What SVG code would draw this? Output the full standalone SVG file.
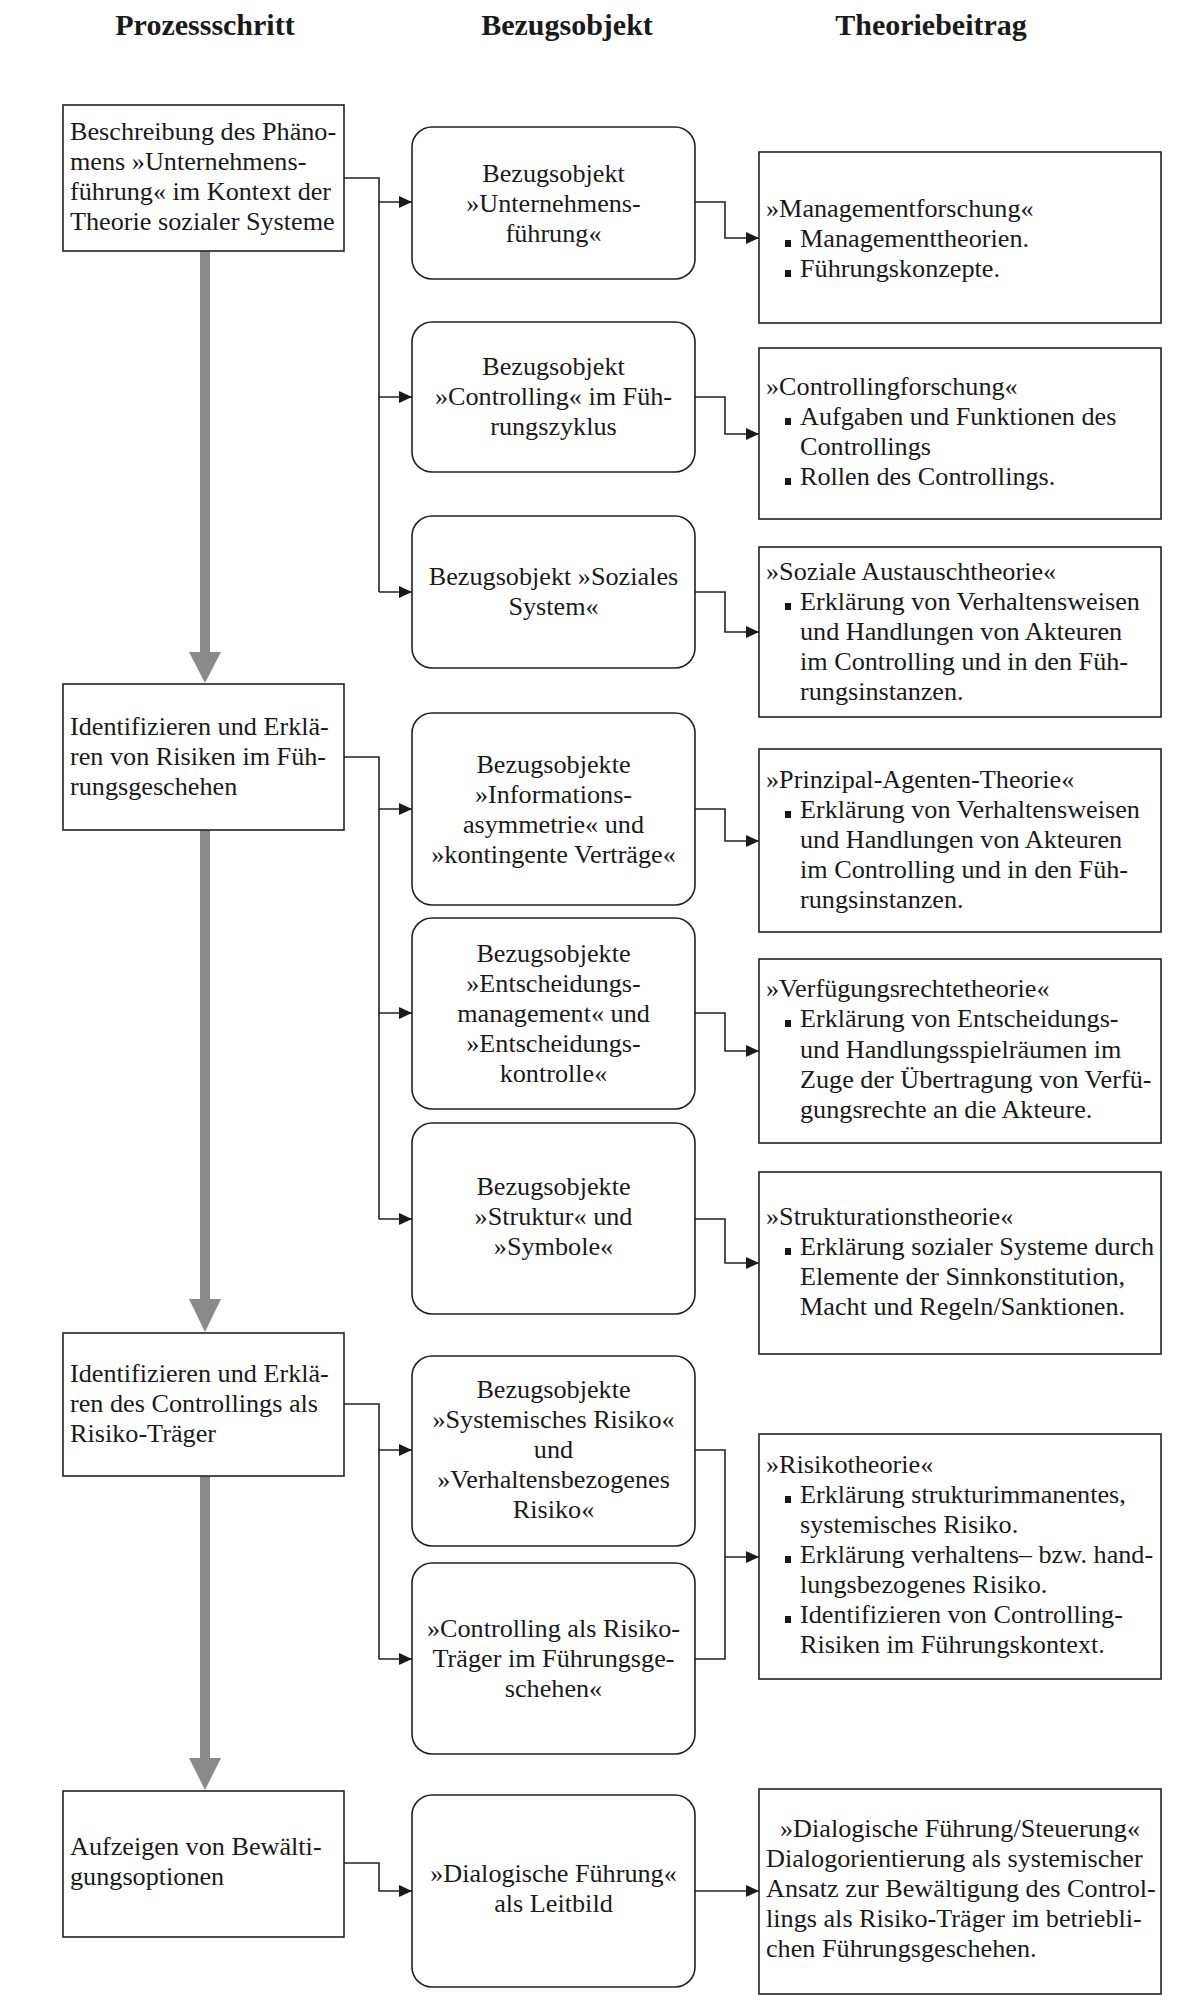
<svg xmlns="http://www.w3.org/2000/svg" width="1204" height="2016" viewBox="0 0 1204 2016">
<style>
.t{font-family:"Liberation Serif","Times New Roman",serif;font-size:26.2px;fill:#1a1a1a}
.h{font-family:"Liberation Serif","Times New Roman",serif;font-size:30px;font-weight:bold;fill:#1a1a1a;text-anchor:middle}
.c{text-anchor:middle}
.box{fill:#fff;stroke:#222;stroke-width:1.6}
.con{fill:none;stroke:#222;stroke-width:1.6}
.gs{stroke:#8a8a8a;stroke-width:10;fill:none}
.gh{fill:#8a8a8a}
.b{fill:#1a1a1a}
</style>
<defs>
<marker id="ah" markerUnits="userSpaceOnUse" markerWidth="14" markerHeight="12" refX="13" refY="6" orient="auto">
<path d="M0,0 L13,6 L0,12 z" fill="#1a1a1a"/>
</marker>
</defs>
<rect width="1204" height="2016" fill="#fff"/>
<g id="headers">
<text class="h" x="205" y="35">Prozessschritt</text>
<text class="h" x="567" y="35">Bezugsobjekt</text>
<text class="h" x="931" y="35">Theoriebeitrag</text>
</g>
<g id="flow">
<line class="gs" x1="205" y1="251" x2="205" y2="654"/>
<polygon class="gh" points="189,652 221,652 205,683"/>
<line class="gs" x1="205" y1="830" x2="205" y2="1301"/>
<polygon class="gh" points="189,1299 221,1299 205,1332"/>
<line class="gs" x1="205" y1="1476" x2="205" y2="1760"/>
<polygon class="gh" points="189,1758 221,1758 205,1790"/>
</g>
<g id="connectors">
<path class="con" d="M344,178 H379 V592"/>
<path class="con" d="M379,202 H412" marker-end="url(#ah)"/>
<path class="con" d="M379,397 H412" marker-end="url(#ah)"/>
<path class="con" d="M379,592 H412" marker-end="url(#ah)"/>
<path class="con" d="M344,757 H379 V1219"/>
<path class="con" d="M379,809 H412" marker-end="url(#ah)"/>
<path class="con" d="M379,1013 H412" marker-end="url(#ah)"/>
<path class="con" d="M379,1219 H412" marker-end="url(#ah)"/>
<path class="con" d="M344,1404 H379 V1659"/>
<path class="con" d="M379,1450 H412" marker-end="url(#ah)"/>
<path class="con" d="M379,1659 H412" marker-end="url(#ah)"/>
<path class="con" d="M344,1863 H379 V1891 H412" marker-end="url(#ah)"/>
<path class="con" d="M695,202 H725 V238 H759" marker-end="url(#ah)"/>
<path class="con" d="M695,397 H725 V434 H759" marker-end="url(#ah)"/>
<path class="con" d="M695,592 H725 V632 H759" marker-end="url(#ah)"/>
<path class="con" d="M695,809 H725 V841 H759" marker-end="url(#ah)"/>
<path class="con" d="M695,1013 H725 V1051 H759" marker-end="url(#ah)"/>
<path class="con" d="M695,1219 H725 V1263 H759" marker-end="url(#ah)"/>
<path class="con" d="M695,1450 H725 V1659 H695"/>
<path class="con" d="M725,1557 H759" marker-end="url(#ah)"/>
<path class="con" d="M695,1891 H759" marker-end="url(#ah)"/>
</g>
<g id="p1">
<rect class="box" x="63" y="105" width="281" height="146"/>
<text class="t" x="70" y="140">Beschreibung des Phäno-</text>
<text class="t" x="70" y="170">mens »Unternehmens-</text>
<text class="t" x="70" y="200">führung« im Kontext der</text>
<text class="t" x="70" y="230">Theorie sozialer Systeme</text>
</g>
<g id="p2">
<rect class="box" x="63" y="684" width="281" height="146"/>
<text class="t" x="70" y="735">Identifizieren und Erklä-</text>
<text class="t" x="70" y="765">ren von Risiken im Füh-</text>
<text class="t" x="70" y="795">rungsgeschehen</text>
</g>
<g id="p3">
<rect class="box" x="63" y="1333" width="281" height="143"/>
<text class="t" x="70" y="1382">Identifizieren und Erklä-</text>
<text class="t" x="70" y="1412">ren des Controllings als</text>
<text class="t" x="70" y="1442">Risiko-Träger</text>
</g>
<g id="p4">
<rect class="box" x="63" y="1791" width="281" height="146"/>
<text class="t" x="70" y="1855">Aufzeigen von Bewälti-</text>
<text class="t" x="70" y="1885">gungsoptionen</text>
</g>
<g id="m1">
<rect class="box" x="412" y="127" width="283" height="152" rx="20"/>
<text class="t c" x="553.5" y="182">Bezugsobjekt</text>
<text class="t c" x="553.5" y="212">»Unternehmens-</text>
<text class="t c" x="553.5" y="242">führung«</text>
</g>
<g id="m2">
<rect class="box" x="412" y="322" width="283" height="150" rx="20"/>
<text class="t c" x="553.5" y="375">Bezugsobjekt</text>
<text class="t c" x="553.5" y="405">»Controlling« im Füh-</text>
<text class="t c" x="553.5" y="435">rungszyklus</text>
</g>
<g id="m3">
<rect class="box" x="412" y="516" width="283" height="152" rx="20"/>
<text class="t c" x="553.5" y="585">Bezugsobjekt »Soziales</text>
<text class="t c" x="553.5" y="615">System«</text>
</g>
<g id="m4">
<rect class="box" x="412" y="713" width="283" height="192" rx="20"/>
<text class="t c" x="553.5" y="773">Bezugsobjekte</text>
<text class="t c" x="553.5" y="803">»Informations-</text>
<text class="t c" x="553.5" y="833">asymmetrie« und</text>
<text class="t c" x="553.5" y="863">»kontingente Verträge«</text>
</g>
<g id="m5">
<rect class="box" x="412" y="918" width="283" height="191" rx="20"/>
<text class="t c" x="553.5" y="962">Bezugsobjekte</text>
<text class="t c" x="553.5" y="992">»Entscheidungs-</text>
<text class="t c" x="553.5" y="1022">management« und</text>
<text class="t c" x="553.5" y="1052">»Entscheidungs-</text>
<text class="t c" x="553.5" y="1082">kontrolle«</text>
</g>
<g id="m6">
<rect class="box" x="412" y="1123" width="283" height="191" rx="20"/>
<text class="t c" x="553.5" y="1195">Bezugsobjekte</text>
<text class="t c" x="553.5" y="1225">»Struktur« und</text>
<text class="t c" x="553.5" y="1255">»Symbole«</text>
</g>
<g id="m7">
<rect class="box" x="412" y="1356" width="283" height="190" rx="20"/>
<text class="t c" x="553.5" y="1398">Bezugsobjekte</text>
<text class="t c" x="553.5" y="1428">»Systemisches Risiko«</text>
<text class="t c" x="553.5" y="1458">und</text>
<text class="t c" x="553.5" y="1488">»Verhaltensbezogenes</text>
<text class="t c" x="553.5" y="1518">Risiko«</text>
</g>
<g id="m8">
<rect class="box" x="412" y="1563" width="283" height="191" rx="20"/>
<text class="t c" x="553.5" y="1637">»Controlling als Risiko-</text>
<text class="t c" x="553.5" y="1667">Träger im Führungsge-</text>
<text class="t c" x="553.5" y="1697">schehen«</text>
</g>
<g id="m9">
<rect class="box" x="412" y="1795" width="283" height="192" rx="20"/>
<text class="t c" x="553.5" y="1882">»Dialogische Führung«</text>
<text class="t c" x="553.5" y="1912">als Leitbild</text>
</g>
<g id="r1">
<rect class="box" x="759" y="152" width="402" height="171"/>
<text class="t" x="766" y="217">»Managementforschung«</text>
<rect class="b" x="785" y="240" width="6" height="7"/>
<text class="t" x="800" y="247">Managementtheorien.</text>
<rect class="b" x="785" y="270" width="6" height="7"/>
<text class="t" x="800" y="277">Führungskonzepte.</text>
</g>
<g id="r2">
<rect class="box" x="759" y="348" width="402" height="171"/>
<text class="t" x="766" y="395">»Controllingforschung«</text>
<rect class="b" x="785" y="418" width="6" height="7"/>
<text class="t" x="800" y="425">Aufgaben und Funktionen des</text>
<text class="t" x="800" y="455">Controllings</text>
<rect class="b" x="785" y="478" width="6" height="7"/>
<text class="t" x="800" y="485">Rollen des Controllings.</text>
</g>
<g id="r3">
<rect class="box" x="759" y="547" width="402" height="170"/>
<text class="t" x="766" y="580">»Soziale Austauschtheorie«</text>
<rect class="b" x="785" y="603" width="6" height="7"/>
<text class="t" x="800" y="610">Erklärung von Verhaltensweisen</text>
<text class="t" x="800" y="640">und Handlungen von Akteuren</text>
<text class="t" x="800" y="670">im Controlling und in den Füh-</text>
<text class="t" x="800" y="700">rungsinstanzen.</text>
</g>
<g id="r4">
<rect class="box" x="759" y="749" width="402" height="183"/>
<text class="t" x="766" y="788">»Prinzipal-Agenten-Theorie«</text>
<rect class="b" x="785" y="811" width="6" height="7"/>
<text class="t" x="800" y="818">Erklärung von Verhaltensweisen</text>
<text class="t" x="800" y="848">und Handlungen von Akteuren</text>
<text class="t" x="800" y="878">im Controlling und in den Füh-</text>
<text class="t" x="800" y="908">rungsinstanzen.</text>
</g>
<g id="r5">
<rect class="box" x="759" y="959" width="402" height="184"/>
<text class="t" x="766" y="997">»Verfügungsrechtetheorie«</text>
<rect class="b" x="785" y="1020" width="6" height="7"/>
<text class="t" x="800" y="1027">Erklärung von Entscheidungs-</text>
<text class="t" x="800" y="1058">und Handlungsspielräumen im</text>
<text class="t" x="800" y="1088">Zuge der Übertragung von Verfü-</text>
<text class="t" x="800" y="1118">gungsrechte an die Akteure.</text>
</g>
<g id="r6">
<rect class="box" x="759" y="1172" width="402" height="182"/>
<text class="t" x="766" y="1225">»Strukturationstheorie«</text>
<rect class="b" x="785" y="1248" width="6" height="7"/>
<text class="t" x="800" y="1255">Erklärung sozialer Systeme durch</text>
<text class="t" x="800" y="1285">Elemente der Sinnkonstitution,</text>
<text class="t" x="800" y="1315">Macht und Regeln/Sanktionen.</text>
</g>
<g id="r7">
<rect class="box" x="759" y="1434" width="402" height="245"/>
<text class="t" x="766" y="1473">»Risikotheorie«</text>
<rect class="b" x="785" y="1496" width="6" height="7"/>
<text class="t" x="800" y="1503">Erklärung strukturimmanentes,</text>
<text class="t" x="800" y="1533">systemisches Risiko.</text>
<rect class="b" x="785" y="1556" width="6" height="7"/>
<text class="t" x="800" y="1563">Erklärung verhaltens– bzw. hand-</text>
<text class="t" x="800" y="1593">lungsbezogenes Risiko.</text>
<rect class="b" x="785" y="1616" width="6" height="7"/>
<text class="t" x="800" y="1623">Identifizieren von Controlling-</text>
<text class="t" x="800" y="1653">Risiken im Führungskontext.</text>
</g>
<g id="r8">
<rect class="box" x="759" y="1789" width="402" height="205"/>
<text class="t c" x="960" y="1837">»Dialogische Führung/Steuerung«</text>
<text class="t" x="766" y="1867">Dialogorientierung als systemischer</text>
<text class="t" x="766" y="1897">Ansatz zur Bewältigung des Control-</text>
<text class="t" x="766" y="1927">lings als Risiko-Träger im betriebli-</text>
<text class="t" x="766" y="1957">chen Führungsgeschehen.</text>
</g>
</svg>
